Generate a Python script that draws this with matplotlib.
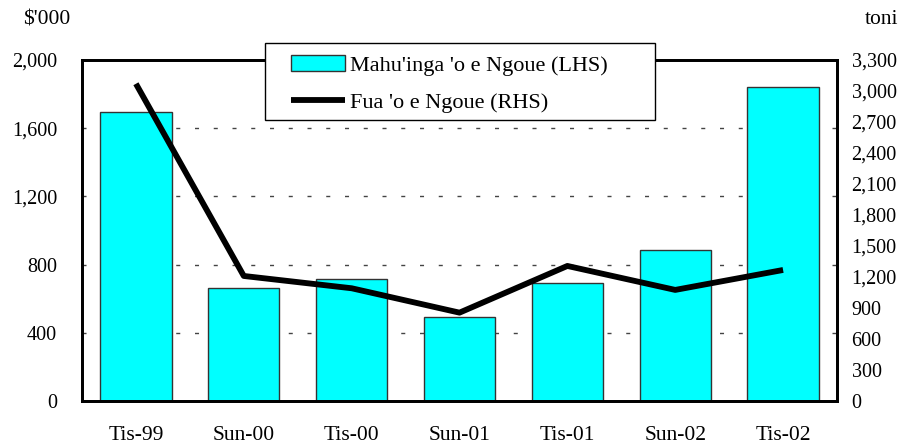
import matplotlib
matplotlib.use("Agg")
import matplotlib.pyplot as plt
from matplotlib.patches import Rectangle
import numpy as np

categories = ["Tis-99", "Sun-00", "Tis-00", "Sun-01", "Tis-01", "Sun-02", "Tis-02"]
value_lhs = [1695, 661, 714, 493, 692, 886, 1842]
volume_rhs = [3070, 1210, 1091, 855, 1307, 1075, 1268]
left_ticks = [0, 400, 800, 1200, 1600, 2000]
right_ticks = list(range(0, 3301, 300))

plt.rcParams['font.family'] = ['Liberation Serif', 'DejaVu Serif']
fs_num = 14.5
fs_txt = 15.5
W, H = 904, 446

fig = plt.figure(figsize=(W/100, H/100), dpi=100)
ax = fig.add_axes([82/W, 1-401/H, (837-82)/W, (401-60)/H])
ax2 = ax.twinx()

x = np.arange(len(categories))
bars = ax.bar(x, value_lhs, width=0.66, color='#00FFFF', edgecolor='#333333', linewidth=1.0, zorder=2)
ax.set_xlim(-0.5, len(categories) - 0.5)
ax.set_ylim(0, 2000)
ax.set_yticks(left_ticks)
ax.set_yticklabels([f"{v:,}" for v in left_ticks], fontsize=fs_num)
ax.set_xticks(x)
ax.set_xticklabels(categories, fontsize=fs_txt)
ax.tick_params(axis='x', length=0, pad=18)
ax.tick_params(axis='y', length=0, pad=18)
for y in left_ticks[1:-1]:
    ax.axhline(y, color='#444444', linestyle=(0, (2.9, 10.6)), linewidth=1.0, zorder=1)

line, = ax2.plot(x, volume_rhs, color='black', linewidth=4.2, solid_capstyle='butt', zorder=3)
ax2.set_ylim(0, 3300)
ax2.set_yticks(right_ticks)
ax2.set_yticklabels([f"{v:,}" for v in right_ticks], fontsize=fs_num)
ax2.tick_params(axis='y', length=0, pad=10.5)

for a in (ax, ax2):
    for s in a.spines.values():
        s.set_linewidth(2.0)
        s.set_color('black')

fig.text(23/W, 1-20/H, "$'000", fontsize=fs_txt, va='center', ha='left')
fig.text(898/W, 1-20/H, "toni", fontsize=fs_txt, va='center', ha='right')

# legend frame
frame = Rectangle((265/W, 1-120/H), (655-265)/W, (120-43)/H, transform=fig.transFigure,
                  facecolor='white', edgecolor='black', linewidth=1.0, zorder=4)
fig.patches.append(frame)

leg = fig.legend([bars, line], ["Mahu'inga 'o e Ngoue (LHS)", "Fua 'o e Ngoue (RHS)"],
                 loc='upper left', bbox_to_anchor=(291/W, 1-55/H), fontsize=16,
                 frameon=False, handlelength=2.45, handletextpad=0.2, borderpad=0,
                 labelspacing=0.75, borderaxespad=0)
leg.set_zorder(5)

fig.savefig("out.png", dpi=100)
